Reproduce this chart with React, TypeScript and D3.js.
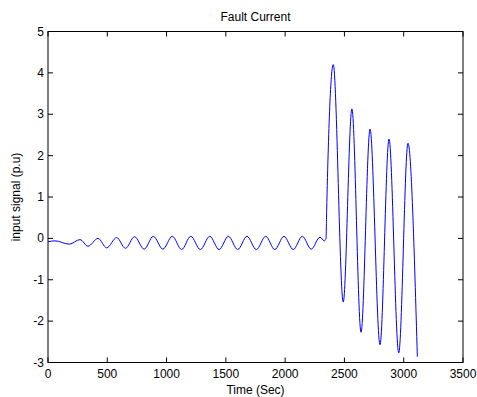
import React from "react";
import * as d3 from "d3";

const chartTitle = "Fault Current";
const xLabel = "Time (Sec)";
const yLabel = "input signal (p.u)";
const xTicks = [0, 500, 1000, 1500, 2000, 2500, 3000, 3500];
const yTicks = [-3, -2, -1, 0, 1, 2, 3, 4, 5];

const timeValues = [
  0, 60, 180, 270, 337, 422, 495, 579, 653, 730, 811, 888, 969, 1048, 1127, 1204,
  1285, 1364, 1443, 1521, 1600, 1678, 1757, 1836, 1913, 1990, 2068, 2145, 2220,
  2294, 2330, 2345, 2350, 2406, 2490, 2563, 2640, 2716, 2800, 2876, 2958, 3036, 3115,
];
const signalValues = [
  -0.08, -0.06, -0.14, -0.03, -0.19, 0.0, -0.23, 0.02, -0.24, 0.04, -0.26, 0.05, -0.26,
  0.05, -0.27, 0.05, -0.27, 0.05, -0.27, 0.05, -0.27, 0.05, -0.27, 0.05, -0.27, 0.05,
  -0.27, 0.05, -0.26, 0.03, -0.06, 0.0, 0.65, 4.2, -1.54, 3.13, -2.27, 2.64, -2.57, 2.4,
  -2.77, 2.3, -2.86,
];

const W = 477;
const H = 397;
const left = 48;
const right = 463;
const top = 31.5;
const bottom = 362.5;
const font = "Liberation Sans, Arial, Helvetica, sans-serif";

export default function App() {
  const x = d3.scaleLinear().domain([0, 3500]).range([left, right]);
  const y = d3.scaleLinear().domain([-3, 5]).range([bottom, top]);
  const pts: [number, number][] = timeValues.map((t, i) => [t, signalValues[i]]);
  const line = d3
    .line<[number, number]>()
    .x((d) => x(d[0]))
    .y((d) => y(d[1]))
    .curve(d3.curveMonotoneX);
  const tl = 5;
  return (
    <svg
      width={W}
      height={H}
      style={{ position: "absolute", left: 0, top: 0, background: "#fff" }}
      fontFamily={font}
    >
      <rect x={0} y={0} width={W} height={H} fill="#fff" />
      <path d={line(pts) || ""} fill="none" stroke="#0000ff" strokeWidth={1} />
      <rect
        x={left}
        y={top}
        width={right - left}
        height={bottom - top}
        fill="none"
        stroke="#000"
        strokeWidth={1}
      />
      {xTicks.map((t) => (
        <g key={"x" + t}>
          <line x1={x(t)} x2={x(t)} y1={bottom} y2={bottom - tl} stroke="#000" />
          <line x1={x(t)} x2={x(t)} y1={top} y2={top + tl} stroke="#000" />
          <text x={x(t)} y={bottom + 15} fontSize={12} textAnchor="middle" fill="#000">
            {t}
          </text>
        </g>
      ))}
      {yTicks.map((t) => (
        <g key={"y" + t}>
          <line x1={left} x2={left + tl} y1={y(t)} y2={y(t)} stroke="#000" />
          <line x1={right} x2={right - tl} y1={y(t)} y2={y(t)} stroke="#000" />
          <text x={left - 4} y={y(t) + 4} fontSize={12} textAnchor="end" fill="#000">
            {t}
          </text>
        </g>
      ))}
      <text x={(left + right) / 2} y={21} fontSize={12} textAnchor="middle" fill="#000">
        {chartTitle}
      </text>
      <text x={(left + right) / 2} y={394} fontSize={12} textAnchor="middle" fill="#000">
        {xLabel}
      </text>
      <text
        transform={`translate(20,${(top + bottom) / 2}) rotate(-90)`}
        fontSize={12}
        textAnchor="middle"
        fill="#000"
      >
        {yLabel}
      </text>
    </svg>
  );
}
